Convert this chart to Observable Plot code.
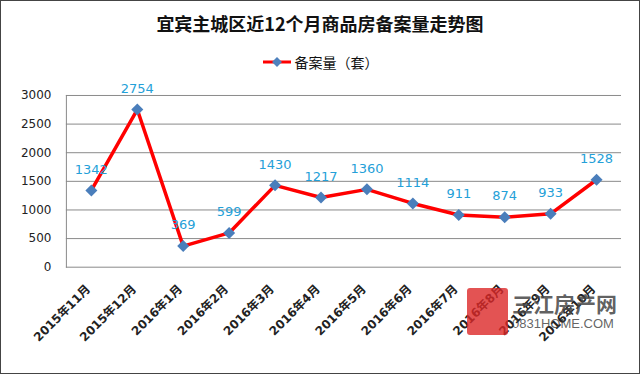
<!DOCTYPE html>
<html>
<head>
<meta charset="utf-8">
<script src="https://cdn.jsdelivr.net/npm/d3@7"></script>
<script src="https://cdn.jsdelivr.net/npm/@observablehq/plot@0.6"></script>
<style>
  body { margin: 0; background: #fff; }
  #c { position: relative; width: 640px; height: 374px; box-sizing: border-box; border: 1px solid #444; overflow: hidden; background: #fff; font-family: "Noto Sans CJK SC", "DejaVu Sans", sans-serif; }
  #title { position: absolute; top: 9px; left: 0; width: 638px; text-align: center; font-size: 18px; font-weight: bold; color: #111; font-family: "Noto Sans CJK SC", sans-serif; }
  #legend { position: absolute; top: 51px; left: 0; width: 638px; display: flex; justify-content: center; align-items: center; font-size: 14px; color: #111; }
  #chart { position: absolute; top: 79px; left: -1px; }
  #wm { position: absolute; left: 466px; top: 287px; width: 160px; height: 50px; pointer-events: none; }
  #wm .blk { position: absolute; left: 0; top: 0; width: 41px; height: 47px; background: rgba(220,40,40,0.8); border-radius: 3px; }
  #wm .t1 { position: absolute; left: 45px; top: 3px; font-size: 21px; font-weight: bold; color: rgba(70,70,70,0.85); font-family: "Noto Sans CJK SC", sans-serif; line-height: 24px; }
  #wm .t2 { position: absolute; left: 45px; top: 29px; font-size: 13px; color: rgba(60,60,60,0.8); font-family: "Liberation Sans Narrow", "Liberation Sans", sans-serif; line-height: 14px; }
</style>
</head>
<body>
<div id="c">
  <div id="title">宜宾主城区近12个月商品房备案量走势图</div>
  <div id="legend">
    <svg width="30" height="14" style="margin-right:3px"><line x1="1" y1="7" x2="29" y2="7" stroke="#ff0000" stroke-width="3"/><rect x="10" y="2" width="7" height="7" fill="#4f81bd" transform="rotate(45 15 7) translate(1.5 1.5)"/></svg>
    <span>备案量（套）</span>
  </div>
  <div id="chart"></div>
  <div id="wm"><div class="blk"></div><div class="t1">三江房产网</div><div class="t2">0831HOME.COM</div></div>
</div>
<script>
const months = ["2015年11月","2015年12月","2016年1月","2016年2月","2016年3月","2016年4月","2016年5月","2016年6月","2016年7月","2016年8月","2016年9月","2016年10月"];
const values = [1342, 2754, 369, 599, 1430, 1217, 1360, 1114, 911, 874, 933, 1528];
const yTicks = [0, 500, 1000, 1500, 2000, 2500, 3000];

const data = months.map((m, i) => ({month: m, value: values[i]}));

const chart = Plot.plot({
  width: 640,
  height: 294,
  marginTop: 15,
  marginBottom: 107,
  marginLeft: 66,
  marginRight: 18,
  style: {fontFamily: "DejaVu Sans, sans-serif", background: "transparent"},
  x: {type: "point", domain: months, padding: 0.5, label: null},
  y: {domain: [0, 3000], label: null},
  marks: [
    Plot.ruleY(yTicks, {stroke: "#8a8a8a", strokeWidth: 1}),
    Plot.frame({anchor: "left", stroke: "#8a8a8a"}),
    Plot.axisY({ticks: yTicks, tickSize: 0, tickPadding: 15, fontSize: 12, fill: "#222", label: null, tickFormat: d => String(d)}),
    Plot.axisX({tickRotate: -45, tickSize: 0, tickPadding: 20, dx: -3, fontSize: 12, fontWeight: "bold", fill: "#222", label: null, fontFamily: "DejaVu Sans, Noto Sans CJK SC, sans-serif"}),
    Plot.line(data, {x: "month", y: "value", stroke: "#ff0000", strokeWidth: 3.5}),
    Plot.dot(data, {x: "month", y: "value", symbol: "square", r: 4.8, rotate: 45, fill: "#4a7ebb", stroke: "none"}),
    Plot.text(data, {x: "month", y: "value", text: d => String(d.value), dy: -21, fill: "#24a0d8", fontSize: 13})
  ]
});
document.getElementById("chart").appendChild(chart);
</script>
</body>
</html>
